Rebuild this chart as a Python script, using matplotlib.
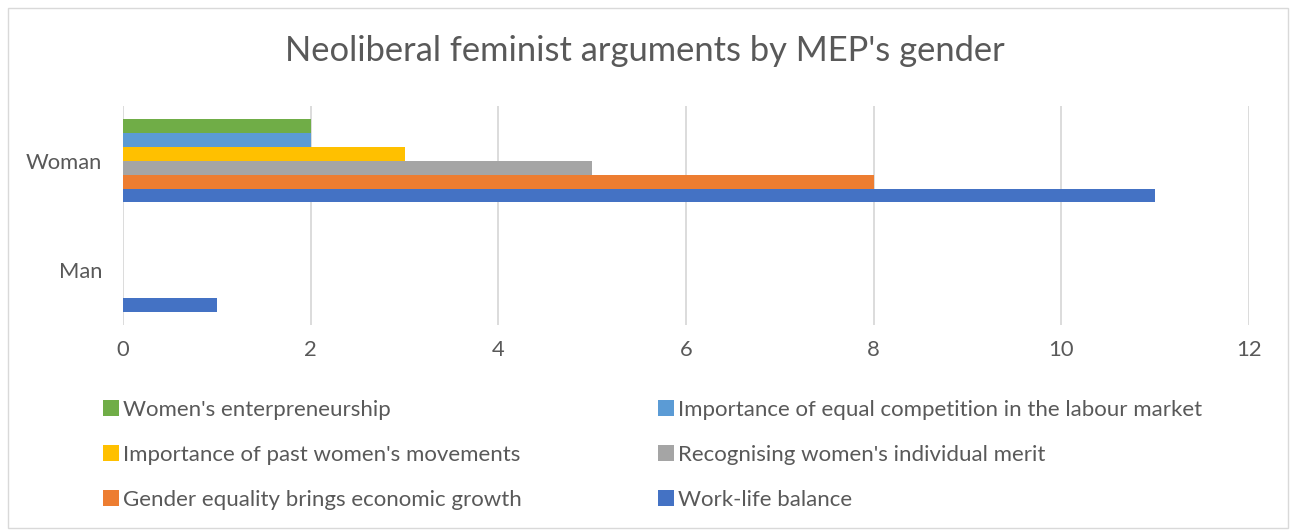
import matplotlib
matplotlib.use("Agg")
import matplotlib.pyplot as plt
from matplotlib.patches import Rectangle, Patch
import numpy as np

categories = ["Man", "Woman"]
series_names = [
    "Work-life balance",
    "Gender equality brings economic growth",
    "Recognising women's individual merit",
    "Importance of past women's movements",
    "Importance of equal competition in the labour market",
    "Women's enterpreneurship",
]
series_values = [
    [1, 11],
    [0, 8],
    [0, 5],
    [0, 3],
    [0, 2],
    [0, 2],
]
series_colors = ["#4472C4", "#ED7D31", "#A5A5A5", "#FFC000", "#5B9BD5", "#70AD47"]
x_ticks = [0, 2, 4, 6, 8, 10, 12]

plt.rcParams['font.family'] = ['Lato', 'DejaVu Sans']
text_color = "#595959"

fig = plt.figure(figsize=(12.9, 5.3), dpi=100)
ax = fig.add_axes([123/1290, 1-325/530, (1249-123)/1290, (325-106)/530])

n = len(series_names)
bar_h = 0.127
y = np.arange(len(categories))
handles = []
for i, (name, vals, col) in enumerate(zip(series_names, series_values, series_colors)):
    offs = (i - (n - 1) / 2) * bar_h
    ax.barh(y + offs, vals, height=bar_h, color=col, label=name, zorder=3)
    handles.append(Patch(facecolor=col, label=name))

ax.set_xlim(0, 12)
ax.set_ylim(-0.5, 1.5)
ax.set_xticks(x_ticks)
ax.set_xticklabels([str(t) for t in x_ticks])
ax.set_yticks(y)
ax.set_yticklabels(categories)
ax.grid(axis='x', color='#D9D9D9', linewidth=1.3, zorder=0)
for s in ax.spines.values():
    s.set_visible(False)
ax.tick_params(axis='both', length=0, labelsize=15.8, colors=text_color)
ax.tick_params(axis='x', pad=11)
ax.tick_params(axis='y', pad=15)

fig.text(0.5, 1-51/530, "Neoliberal feminist arguments by MEP's gender",
         ha='center', va='center', fontsize=24.8, color=text_color)

# legend: reversed series order, row-major with 2 columns
rev = handles[::-1]
order = [rev[0], rev[2], rev[4], rev[1], rev[3], rev[5]]
leg = fig.legend(handles=order, loc='upper left', ncol=2,
                 bbox_to_anchor=(103/1290, 1-400/530), frameon=False,
                 fontsize=16, handlelength=0.7, handleheight=0.7,
                 handletextpad=0.2, columnspacing=6.15, labelspacing=1.12,
                 borderpad=0, borderaxespad=0)
for t in leg.get_texts():
    t.set_color(text_color)

fig.patches.append(Rectangle((8/1290, 2/530), 1280/1290, 520/530, transform=fig.transFigure,
                             fill=False, edgecolor='#D9D9D9', linewidth=1))

fig.savefig("out.png", dpi=100, facecolor='white')
